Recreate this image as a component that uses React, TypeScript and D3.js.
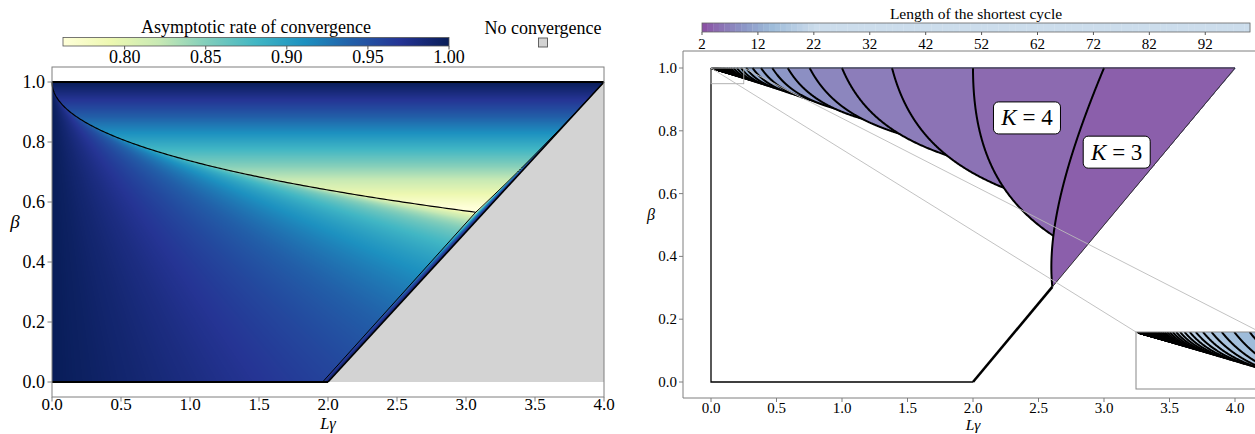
import React, { useEffect, useState } from "react";
import * as d3 from "d3";

// ---------------- data / parameters ----------------
const MU_OVER_L = 0.02;
const RATE_MIN = 0.762;
const RATE_MAX = 1.0;
const rateTicks = [0.8, 0.85, 0.9, 0.95, 1.0];
const xTicksLeft = [0, 0.5, 1, 1.5, 2, 2.5, 3, 3.5, 4];
const xTicksRight = [0, 0.5, 1, 1.5, 2, 2.5, 3, 3.5, 4];
const yTicks = [0, 0.2, 0.4, 0.6, 0.8, 1.0];
const cycleTicks = [2, 12, 22, 32, 42, 52, 62, 72, 82, 92];
const CYCLE_MIN = 2;
const CYCLE_MAX = 100;
const cycleLengths = d3.range(3, 101);
const regionLabels = [
  { K: 4, h: 2.412, b: 0.841 },
  { K: 3, h: 3.097, b: 0.732 },
];
const zoomBoxX = [0, 0.25];
const zoomBoxY = [0.95, 1.0];

const YLGNBU = ["#ffffd9", "#edf8b1", "#c7e9b4", "#7fcdbb", "#41b6c4", "#1d91c0", "#225ea8", "#253494", "#081d58"];
const BUPU = ["#f7fcfd", "#e0ecf4", "#bfd3e6", "#9ebcda", "#8c96c6", "#8c6bb1", "#88419d", "#810f7c", "#4d004b"];
const ylgnbu = d3.piecewise(d3.interpolateRgb, YLGNBU);
const bupu = d3.piecewise(d3.interpolateRgb, BUPU);

const FONT = '"Liberation Serif", "Times New Roman", Times, "DejaVu Serif", "Noto Serif", serif';
const SPINE = "#7f7f7f";

function cycleColor(K: number) {
  const t = Math.min(1, Math.max(0, (K - 2) / 20));
  return bupu(0.7 - 0.5 * Math.pow(t, 0.85));
}

// ---------------- math ----------------
function rho(a: number, b: number) {
  const d = a * a - 4 * b;
  return d < 0 ? Math.sqrt(b) : (Math.abs(a) + Math.sqrt(d)) / 2;
}
const rhoMu = (h: number, b: number) => rho(1 + b - MU_OVER_L * h, b);
const rhoL = (h: number, b: number) => rho(1 + b - h, b);
const rate = (h: number, b: number) => Math.max(rhoMu(h, b), rhoL(h, b));

function hSwitch(b: number) {
  let lo = (1 + Math.sqrt(b)) ** 2;
  let hi = 2 + 2 * b;
  if (lo >= hi) return hi;
  for (let i = 0; i < 60; i++) {
    const m = (lo + hi) / 2;
    if (rhoL(m, b) - rhoMu(m, b) > 1e-12) hi = m;
    else lo = m;
  }
  return (lo + hi) / 2;
}

function fK(K: number, b: number) {
  const c = Math.cos((2 * Math.PI) / K);
  return ((1 - c) * ((1 + b) ** 2 * (1 - c) + (1 - b) ** 2 * (1 + c))) / (2 * (b - c));
}

function regionFor(K: number) {
  const c = Math.cos((2 * Math.PI) / K);
  const g = (b: number) => fK(K, b) - (2 + 2 * b);
  let lo = c + 1e-13;
  let hi = 1;
  for (let i = 0; i < 90; i++) {
    const m = (lo + hi) / 2;
    if (g(m) > 0) lo = m;
    else hi = m;
  }
  const bc = hi;
  const n = 260;
  const curve: [number, number][] = d3.range(n + 1).map((i) => {
    const b = bc + ((1 - bc) * i) / n;
    return [fK(K, b), b] as [number, number];
  });
  curve[0] = [2 + 2 * bc, bc];
  const poly: [number, number][] = [...curve, [4, 1]];
  return { K, bc, curve, poly };
}

// ---------------- scales ----------------
const xL = d3.scaleLinear().domain([0, 4]).range([52, 604]);
const yL = d3.scaleLinear().domain([-0.05, 1.05]).range([397, 67]);
const xR = d3.scaleLinear().domain([0, 4]).range([711, 1235]);
const yR = d3.scaleLinear().domain([0, 1]).range([382, 68]);
const xI = d3.scaleLinear().domain(zoomBoxX).range([1136, 1260]);
const yI = d3.scaleLinear().domain(zoomBoxY).range([389, 332]);
const cbL = d3.scaleLinear().domain([RATE_MIN, RATE_MAX]).range([63, 449]);
const cbR = d3.scaleLinear().domain([CYCLE_MIN, CYCLE_MAX]).range([702, 1250]);

const fmt1 = d3.format(".1f");
const fmt2 = d3.format(".2f");

export default function App() {
  const [heat, setHeat] = useState<string | null>(null);

  useEffect(() => {
    const W = 1104;
    const H = 600;
    const cv = document.createElement("canvas");
    cv.width = W;
    cv.height = H;
    const ctx = cv.getContext("2d");
    if (!ctx) return;
    const img = ctx.createImageData(W, H);
    const lut = d3.range(512).map((i) => d3.rgb(ylgnbu(i / 511)));
    for (let j = 0; j < H; j++) {
      const b = 1 - (j + 0.5) / H;
      for (let i = 0; i < W; i++) {
        const h = ((i + 0.5) / W) * 4;
        const p = (j * W + i) * 4;
        let r = rate(h, b);
        if (h > 2 + 2 * b) r = 1;
        let t = (r - RATE_MIN) / (RATE_MAX - RATE_MIN);
        t = Math.max(0, Math.min(1, t));
        const c = lut[Math.round(t * 511)];
        img.data[p] = c.r;
        img.data[p + 1] = c.g;
        img.data[p + 2] = c.b;
        img.data[p + 3] = 255;
      }
    }
    ctx.putImageData(img, 0, 0);
    setHeat(cv.toDataURL());
  }, []);

  // left geometry
  const sq = Math.sqrt(MU_OVER_L);
  const hOpt = 4 / (1 + sq) ** 2;
  const muCurve = d3.range(201).map((i) => {
    const h = hOpt * (i / 200) ** 2;
    return [h, (1 - Math.sqrt(MU_OVER_L * h)) ** 2] as [number, number];
  });
  const switchLine = d3.range(301).map((i) => {
    const b = i / 300;
    return [hSwitch(b), b] as [number, number];
  });
  const lineL = d3
    .line<[number, number]>()
    .x((d) => xL(d[0]))
    .y((d) => yL(d[1]));

  // right geometry
  const regions = cycleLengths.map(regionFor).sort((a, b) => b.K - a.K);
  const r3 = regions.find((r) => r.K === 3)!;
  const lineR = d3
    .line<[number, number]>()
    .x((d) => xR(d[0]))
    .y((d) => yR(d[1]));
  const lineI = d3
    .line<[number, number]>()
    .x((d) => xI(d[0]))
    .y((d) => yI(d[1]));

  const leftClip = [
    [0, 0],
    [2, 0],
    [4, 1],
    [0, 1],
  ] as [number, number][];

  const gradStops = d3.range(41).map((i) => i / 40);

  return (
    <svg
      width={1255}
      height={434}
      style={{ position: "absolute", left: 0, top: 0, background: "white", fontFamily: FONT }}
    >
      <defs>
        <clipPath id="leftRegion">
          <path d={lineL(leftClip)! + "Z"} />
        </clipPath>
        <clipPath id="rightPlot">
          <rect x={683} y={51} width={600} height={347} />
        </clipPath>
        <clipPath id="insetClip">
          <rect x={1136} y={332} width={124} height={57} />
        </clipPath>
        <linearGradient id="rateGrad" x1="0" x2="1" y1="0" y2="0">
          {gradStops.map((t) => (
            <stop key={t} offset={t} stopColor={ylgnbu(t)} />
          ))}
        </linearGradient>
      </defs>

      {/* ================= LEFT PANEL ================= */}
      <path
        d={lineL([[2, 0], [4, 0], [4, 1]] as [number, number][])! + "Z"}
        fill="#d3d3d3"
      />
      {heat && (
        <image
          href={heat}
          x={xL(0)}
          y={yL(1)}
          width={xL(4) - xL(0)}
          height={yL(0) - yL(1)}
          preserveAspectRatio="none"
          clipPath="url(#leftRegion)"
        />
      )}
      <path d={lineL(switchLine)!} fill="none" stroke="black" strokeWidth={1} />
      <path d={lineL(muCurve)!} fill="none" stroke="black" strokeWidth={1.2} />
      <path d={lineL([[2, 0], [4, 1]] as [number, number][])!} fill="none" stroke="black" strokeWidth={1.6} />
      <path d={lineL([[0, 0], [2, 0]] as [number, number][])!} fill="none" stroke="black" strokeWidth={2.2} />
      <path d={lineL([[0, 1], [4, 1]] as [number, number][])!} fill="none" stroke="black" strokeWidth={2.2} />

      {/* left axes */}
      <rect x={xL(0)} y={yL(1.05)} width={xL(4) - xL(0)} height={yL(-0.05) - yL(1.05)} fill="none" stroke={SPINE} strokeWidth={1} />
      {yTicks.map((t) => (
        <g key={"ly" + t}>
          <line x1={xL(0) - 4.5} x2={xL(0)} y1={yL(t)} y2={yL(t)} stroke={SPINE} />
          <text x={xL(0) - 7} y={yL(t) + 6} fontSize={18} textAnchor="end">
            {fmt1(t)}
          </text>
        </g>
      ))}
      {xTicksLeft.map((t) => (
        <g key={"lx" + t}>
          <line x1={xL(t)} x2={xL(t)} y1={yL(-0.05)} y2={yL(-0.05) + 4.5} stroke={SPINE} />
          <text x={xL(t)} y={410} fontSize={17} textAnchor="middle">
            {fmt1(t)}
          </text>
        </g>
      ))}
      <text x={(xL(0) + xL(4)) / 2} y={429} fontSize={16.5} textAnchor="middle" fontStyle="italic">
        Lγ
      </text>
      <text x={15} y={yL(0.5) - 4} fontSize={19} textAnchor="middle" fontStyle="italic">
        β
      </text>

      {/* left colorbar */}
      <text x={(cbL.range()[0] + cbL.range()[1]) / 2} y={33} fontSize={18} textAnchor="middle">
        Asymptotic rate of convergence
      </text>
      <rect x={cbL.range()[0]} y={37.5} width={cbL.range()[1] - cbL.range()[0]} height={8.5} fill="url(#rateGrad)" stroke="#555" strokeWidth={0.8} />
      {rateTicks.map((t) => (
        <g key={"cb" + t}>
          <line x1={cbL(t)} x2={cbL(t)} y1={46} y2={49.5} stroke="#555" />
          <text x={cbL(t)} y={62.5} fontSize={18} textAnchor="middle">
            {fmt2(t)}
          </text>
        </g>
      ))}
      <text x={543} y={34} fontSize={18} textAnchor="middle">
        No convergence
      </text>
      <rect x={538.5} y={38} width={9} height={9} fill="#d3d3d3" stroke="#555" strokeWidth={0.9} />

      {/* ================= RIGHT PANEL ================= */}
      <g clipPath="url(#rightPlot)">
        {regions.map((r) => (
          <g key={"reg" + r.K}>
            <path d={lineR(r.poly)! + "Z"} fill={cycleColor(r.K)} stroke={cycleColor(r.K)} strokeWidth={0.4} />
            <path d={lineR(r.curve)!} fill="none" stroke="black" strokeWidth={2} strokeLinejoin="round" />
          </g>
        ))}
        {/* outlines */}
        <path d={lineR([[0, 1], [0, 0], [2, 0]] as [number, number][])!} fill="none" stroke="black" strokeWidth={1.3} />
        <path d={lineR([[2, 0], [2 + 2 * r3.bc, r3.bc]] as [number, number][])!} fill="none" stroke="black" strokeWidth={2.6} />
        <path d={lineR([[2 + 2 * r3.bc, r3.bc], [4, 1], [0, 1]] as [number, number][])!} fill="none" stroke="#333" strokeWidth={1} />
        {/* zoom box and connectors */}
        <rect
          x={xR(zoomBoxX[0])}
          y={yR(zoomBoxY[1])}
          width={xR(zoomBoxX[1]) - xR(zoomBoxX[0])}
          height={yR(zoomBoxY[0]) - yR(zoomBoxY[1])}
          fill="none"
          stroke="#aaaaaa"
          strokeWidth={0.9}
        />
        <line x1={xR(zoomBoxX[0])} y1={yR(zoomBoxY[1])} x2={xI(zoomBoxX[0])} y2={yI(zoomBoxY[1])} stroke="#bbbbbb" strokeWidth={0.9} />
        <line x1={xR(zoomBoxX[1])} y1={yR(zoomBoxY[1])} x2={xI(zoomBoxX[1])} y2={yI(zoomBoxY[1])} stroke="#bbbbbb" strokeWidth={0.9} />
      </g>

      {/* inset */}
      <rect x={1136} y={332} width={124} height={57} fill="white" />
      <g clipPath="url(#insetClip)">
        {regions.map((r) => (
          <g key={"ins" + r.K}>
            <path d={lineI(r.poly)! + "Z"} fill={cycleColor(r.K)} stroke={cycleColor(r.K)} strokeWidth={0.4} />
            <path d={lineI(r.curve)!} fill="none" stroke="black" strokeWidth={2} strokeLinejoin="round" />
          </g>
        ))}
      </g>
      <rect x={1136} y={332} width={124} height={57} fill="none" stroke="#888" strokeWidth={1} />

      {/* region labels */}
      {regionLabels.map((l) => (
        <g key={"lab" + l.K}>
          <rect x={xR(l.h) - 33.5} y={yR(l.b) - 16} width={67} height={32} rx={5} fill="white" stroke="black" strokeWidth={1} />
          <text x={xR(l.h)} y={yR(l.b) + 7.5} fontSize={23} textAnchor="middle">
            <tspan fontStyle="italic">K</tspan>
            <tspan> = {l.K}</tspan>
          </text>
        </g>
      ))}

      {/* right axes */}
      <line x1={683} x2={683} y1={51} y2={398} stroke={SPINE} />
      <line x1={683} x2={1255} y1={51} y2={51} stroke={SPINE} />
      <line x1={683} x2={1255} y1={398} y2={398} stroke={SPINE} />
      {yTicks.map((t) => (
        <g key={"ry" + t}>
          <line x1={683 - 4} x2={683} y1={yR(t)} y2={yR(t)} stroke={SPINE} />
          <text x={677} y={yR(t) + 5} fontSize={15} textAnchor="end">
            {fmt1(t)}
          </text>
        </g>
      ))}
      {xTicksRight.map((t) => (
        <g key={"rx" + t}>
          <line x1={xR(t)} x2={xR(t)} y1={398} y2={402} stroke={SPINE} />
          <text x={xR(t)} y={413} fontSize={15} textAnchor="middle">
            {fmt1(t)}
          </text>
        </g>
      ))}
      <text x={xR(2)} y={430} fontSize={15.5} textAnchor="middle" fontStyle="italic">
        Lγ
      </text>
      <text x={651} y={220} fontSize={16} textAnchor="middle" fontStyle="italic">
        β
      </text>

      {/* right colorbar */}
      <text x={(cbR.range()[0] + cbR.range()[1]) / 2} y={19} fontSize={15.5} textAnchor="middle">
        Length of the shortest cycle
      </text>
      {d3.range(CYCLE_MIN, CYCLE_MAX).map((k) => (
        <rect key={"cbr" + k} x={cbR(k)} y={23} width={cbR(k + 1) - cbR(k) + 0.3} height={9} fill={cycleColor(k)} />
      ))}
      <rect x={cbR.range()[0]} y={23} width={cbR.range()[1] - cbR.range()[0]} height={9} fill="none" stroke="#666" strokeWidth={0.8} />
      {cycleTicks.map((t) => (
        <g key={"cbt" + t}>
          <line x1={cbR(t)} x2={cbR(t)} y1={32} y2={35} stroke="#555" />
          <text x={cbR(t)} y={49} fontSize={15} textAnchor="middle">
            {t}
          </text>
        </g>
      ))}
    </svg>
  );
}
